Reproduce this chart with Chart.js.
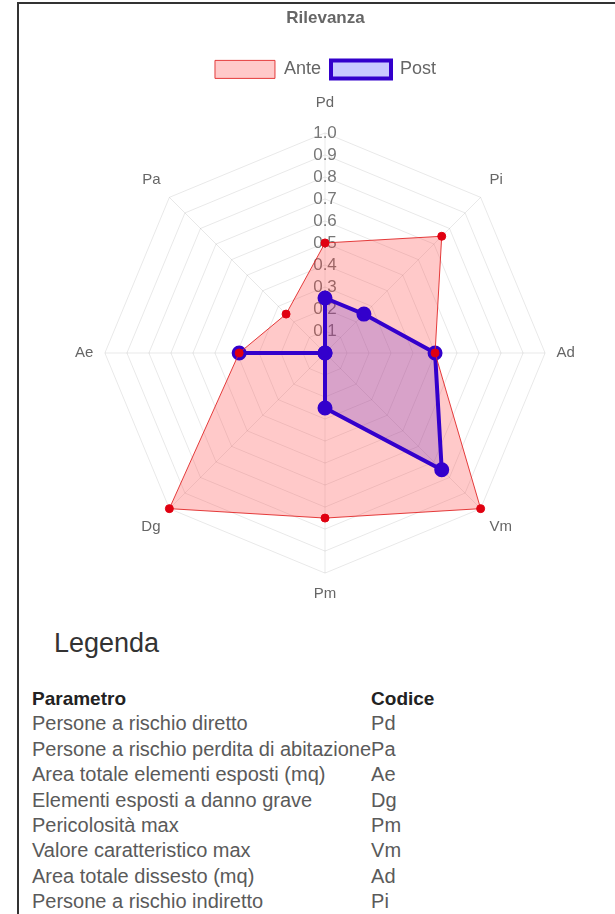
<!DOCTYPE html>
<html>
<head>
<meta charset="utf-8">
<script src="https://cdn.jsdelivr.net/npm/chart.js@4"></script>
<style>
  html, body { margin: 0; padding: 0; background: #fff; overflow: hidden; }
  body { width: 615px; height: 914px; position: relative; font-family: 'Liberation Sans', Arial, sans-serif; }
  #cornice { position: absolute; left: 17px; top: 2px; width: 600px; height: 920px;
             border-left: 2px solid #333; border-top: 2px solid #333; }
  #boxGrafico { position: absolute; left: 36px; top: 0; width: 579px; height: 608px; }
  #titoloLegenda { position: absolute; left: 54px; top: 628px; font-size: 27px; color: #333; }
  #tabella { position: absolute; left: 32px; top: 686px; border-collapse: collapse;
             font-size: 20px; color: #5a5a5a; }
  #tabella td, #tabella th { padding: 0; line-height: 25.4px; text-align: left; white-space: nowrap; }
  #tabella th { color: #222; font-weight: bold; font-size: 19px; }
</style>
</head>
<body>
<div id="cornice"></div>
<div id="boxGrafico"><canvas id="graficoRilevanza"></canvas></div>
<div id="titoloLegenda">Legenda</div>
<table id="tabella"></table>

<script>
//ETICHETTE DEGLI ASSI (ordine orario partendo dall'alto)
const codici = ['Pd', 'Pi', 'Ad', 'Vm', 'Pm', 'Dg', 'Ae', 'Pa'];
//VALORI DELLE DUE SERIE
const valoriAnte = [0.5, 0.75, 0.5, 1.0, 0.75, 1.0, 0.39, 0.25];
const valoriPost = [0.25, 0.25, 0.5, 0.75, 0.25, 0, 0.39, 0];
//TACCHE DELLA SCALA
const tacche = [0.1, 0.2, 0.3, 0.4, 0.5, 0.6, 0.7, 0.8, 0.9, 1.0];

//TABELLA DELLA LEGENDA
const parametri = [
  'Persone a rischio diretto',
  'Persone a rischio perdita di abitazione',
  'Area totale elementi esposti (mq)',
  'Elementi esposti a danno grave',
  'Pericolosità max',
  'Valore caratteristico max',
  'Area totale dissesto (mq)',
  'Persone a rischio indiretto'
];
const codiciTabella = ['Pd', 'Pa', 'Ae', 'Dg', 'Pm', 'Vm', 'Ad', 'Pi'];

const riempiTabella = () => {
  const tab = document.getElementById('tabella');
  tab.innerHTML = '<tr><th>Parametro</th><th>Codice</th></tr>';
  parametri.forEach((p, i) => {
    const tr = document.createElement('tr');
    tr.innerHTML = `<td>${p}</td><td>${codiciTabella[i]}</td>`;
    tab.appendChild(tr);
  });
};

Chart.defaults.font.family = "'Liberation Sans', Arial, sans-serif";
Chart.defaults.color = '#666';

// distanza etichette dal bordo: in alto piu larga (come nell'originale)
const paddingEtichette = [11, 2, 1, 2, 1, 2, 1, 2];

const disegnaGrafico = () => {
  const ctx = document.getElementById('graficoRilevanza').getContext('2d');
  new Chart(ctx, {
    type: 'radar',
    data: {
      labels: codici,
      datasets: [{
        label: 'Ante',
        data: valoriAnte,
        backgroundColor: 'rgba(255, 60, 60, 0.28)',
        borderColor: 'rgba(225, 40, 40, 0.9)',
        borderWidth: 1,
        pointBackgroundColor: '#e00010',
        pointBorderColor: '#e00010',
        pointRadius: 4,
        fill: true
      }, {
        label: 'Post',
        data: valoriPost,
        backgroundColor: 'rgba(40, 40, 255, 0.25)',
        borderColor: '#3300cc',
        borderWidth: 4,
        pointBackgroundColor: '#3300cc',
        pointBorderColor: '#3300cc',
        pointRadius: 5.5,
        fill: true
      }]
    },
    options: {
      responsive: true,
      maintainAspectRatio: false,
      animation: false,
      plugins: {
        filler: { drawTime: 'beforeDatasetsDraw' },
        title: {
          display: true,
          text: 'Rilevanza',
          color: '#666',
          font: { size: 17, weight: 'bold' },
          padding: { top: 8, bottom: 22 }
        },
        legend: {
          labels: {
            boxWidth: 60,
            boxHeight: 18,
            color: '#666',
            font: { size: 18 },
            padding: 10
          }
        },
        tooltip: { enabled: false }
      },
      scales: {
        r: {
          min: 0,
          max: 1,
          afterBuildTicks: scale => {
            scale.ticks = [0].concat(tacche).map(v => ({ value: v }));
          },
          ticks: {
            showLabelBackdrop: false,
            color: '#777',
            font: { size: 17 },
            callback: v => v.toFixed(1)
          },
          grid: { color: 'rgba(0,0,0,0.09)' },
          angleLines: { color: 'rgba(0,0,0,0.09)' },
          pointLabels: {
            color: '#666',
            font: { size: 15 },
            padding: c => paddingEtichette[c.index]
          }
        }
      }
    }
  });
};

riempiTabella();
disegnaGrafico();
</script>
</body>
</html>
